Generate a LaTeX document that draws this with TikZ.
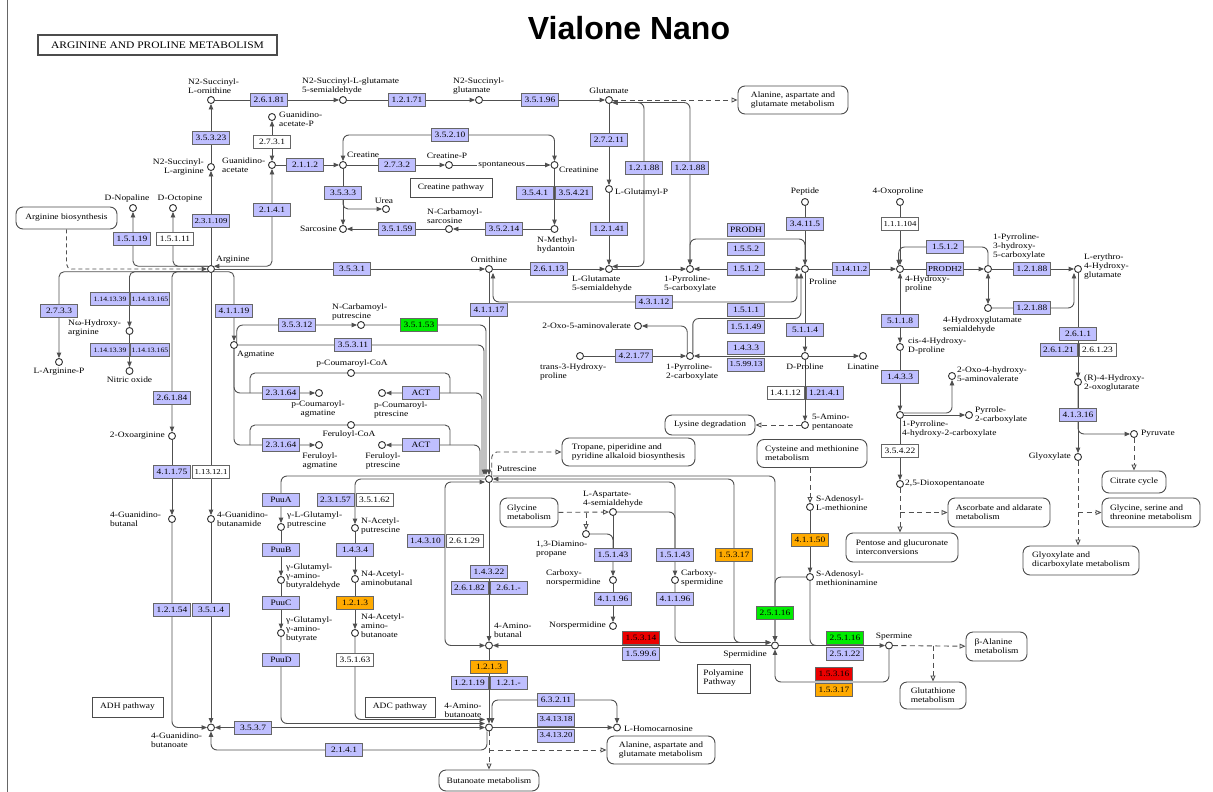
\documentclass[tikz,border=0pt]{standalone}
\usepackage{fontspec}
\setmainfont{Liberation Serif}
\newfontfamily\keggserif[FakeStretch=1.15]{Liberation Serif}
\newfontfamily\titlesans{Liberation Sans}
\usetikzlibrary{arrows.meta}
\definecolor{enzblue}{RGB}{191,191,255}
\definecolor{enzgreen}{RGB}{0,235,0}
\definecolor{enzorange}{RGB}{255,170,0}
\definecolor{enzred}{RGB}{235,0,0}
\definecolor{linegray}{RGB}{80,80,80}
\newcommand\mapfont{\keggserif\fontsize{8.2}{9}\selectfont}
\pgfdeclarelayer{paper}
\pgfdeclarelayer{connectors}
\pgfsetlayers{paper,connectors,main}
\tikzset{
  ln/.style={draw=linegray, line width=0.9pt},
  arr/.style={ln, -{Triangle[length=5.5pt,width=4.5pt]}},
  arrb/.style={ln, {Triangle[length=5.5pt,width=4.5pt]}-{Triangle[length=5.5pt,width=4.5pt]}},
  dsh/.style={draw=linegray, line width=0.9pt, dash pattern=on 5pt off 3.5pt, -{Triangle[open,length=6pt,width=5pt]}},
  cpd/.style={circle, draw=black!80, line width=0.9pt, fill=white, minimum size=7pt, inner sep=0pt},
  enz/.style={rectangle, draw=black!60, line width=0.7pt, fill=enzblue, minimum width=37pt, minimum height=13pt, inner sep=0pt, font=\mapfont},
  enzn/.style={enz, font=\keggserif\fontsize{7.6}{8}\selectfont},
  enzwide/.style={enz, minimum width=39pt, font=\keggserif\fontsize{6.7}{8}\selectfont},
  enzw/.style={enz, fill=white},
  enzg/.style={enz, fill=enzgreen},
  enzo/.style={enz, fill=enzorange},
  enzr/.style={enz, fill=enzred},
  lbl/.style={inner sep=0pt, font=\mapfont, align=left},
  mapbox/.style={rectangle, rounded corners=7pt, draw=black!70, line width=0.9pt, fill=white, font=\mapfont, align=left, inner sep=0pt},
  plainbox/.style={rectangle, draw=black!70, line width=0.9pt, fill=white, font=\mapfont, align=left, inner sep=0pt},
}
\begin{document}
\begin{tikzpicture}[x=1pt,y=-1pt]
\begin{pgfonlayer}{paper}
\fill[white] (0,0) rectangle (1213,792);
\end{pgfonlayer}
\useasboundingbox (0,0) rectangle (1213,792);
\draw[black!60, line width=1pt] (7.5,0) -- (7.5,792);
\node (title) at (629,28) {\titlesans\fontsize{32}{36}\selectfont\bfseries Vialone Nano};
\node[plainbox, line width=1.3pt, minimum width=239pt, minimum height=20pt, font=\keggserif\fontsize{10}{10}\selectfont] (maptitle) at (157.5,45) {ARGININE AND PROLINE METABOLISM};

% ---------- compounds ----------
\node[cpd] (sucorn) at (211,100) {};
\node[cpd] (sucglsa) at (343,100) {};
\node[cpd] (sucglu) at (479,100) {};
\node[cpd] (glu) at (609,100) {};
\node[cpd] (gaP) at (272,117) {};
\node[cpd] (gaa) at (272,165) {};
\node[cpd] (sucarg) at (211,167) {};
\node[cpd] (creatine) at (343,165) {};
\node[cpd] (creP) at (449,165) {};
\node[cpd] (creatinine) at (554.5,165) {};
\node[cpd] (urea) at (386,209) {};
\node[cpd] (sarcosine) at (343,229) {};
\node[cpd] (ncsarc) at (449,229) {};
\node[cpd] (nmh) at (554.5,229) {};
\node[cpd] (glup) at (609,189) {};
\node[cpd] (dnop) at (133,208) {};
\node[cpd] (doct) at (173,208) {};
\node[cpd] (arg) at (211,269) {};
\node[cpd] (orn) at (489,269) {};
\node[cpd] (g5s) at (609,269) {};
\node[cpd] (p5c) at (690,269) {};
\node[cpd] (peptide) at (805,202) {};
\node[cpd] (pro) at (805,269) {};
\node[cpd] (oxopro) at (900,202) {};
\node[cpd] (hyp) at (900,269) {};
\node[cpd] (p3h5c) at (988,269) {};
\node[cpd] (ery) at (1078,269) {};
\node[cpd] (hgs) at (988,308) {};
\node[cpd] (cishyp) at (900,347) {};
\node[cpd] (oxohav) at (952,376) {};
\node[cpd] (p4h2c) at (900,415) {};
\node[cpd] (pyrrole) at (969,415) {};
\node[cpd] (rhog) at (1078,382) {};
\node[cpd] (pyruvate) at (1134,434) {};
\node[cpd] (glyox) at (1078,457) {};
\node[cpd] (dioxo) at (900,484) {};
\node[cpd] (argP) at (59,362) {};
\node[cpd] (nohar) at (129.5,331) {};
\node[cpd] (no) at (129.5,371) {};
\node[cpd] (oxoarg) at (172,436) {};
\node[cpd] (agm) at (234,345) {};
\node[cpd] (ncput) at (361,325) {};
\node[cpd] (pcoa) at (351,373) {};
\node[cpd] (pcagm) at (319,393) {};
\node[cpd] (pcput) at (382,393) {};
\node[cpd] (fcoa) at (351,425) {};
\node[cpd] (feagm) at (319,445) {};
\node[cpd] (feput) at (382,445) {};
\node[cpd] (oxoav) at (638,326) {};
\node[cpd] (t3hp) at (580,356) {};
\node[cpd] (p2c) at (690,356) {};
\node[cpd] (dpro) at (805,356) {};
\node[cpd] (linatine) at (863,356) {};
\node[cpd] (amp) at (805,425) {};
\node[cpd] (putr) at (489,479) {};
\node[cpd] (gbal) at (172,519) {};
\node[cpd] (gbam) at (211,519) {};
\node[cpd] (glput) at (281,527) {};
\node[cpd] (gga) at (281,580) {};
\node[cpd] (ggb) at (281,633) {};
\node[cpd] (acput) at (355,528) {};
\node[cpd] (acab) at (355,579) {};
\node[cpd] (acabo) at (355,633) {};
\node[cpd] (aspsa) at (613,512) {};
\node[cpd] (dap) at (586,534) {};
\node[cpd] (cnsp) at (613,580) {};
\node[cpd] (csp) at (675,580) {};
\node[cpd] (nspd) at (613,626) {};
\node[cpd] (sam) at (810,507) {};
\node[cpd] (samn) at (810,577) {};
\node[cpd] (spd) at (775,645.5) {};
\node[cpd] (spm) at (889,645.5) {};
\node[cpd] (aba) at (489,645.5) {};
\node[cpd] (gbo) at (211,727.5) {};
\node[cpd] (gaba) at (489,727.5) {};
\node[cpd] (hcar) at (617,727.5) {};

% ---------- enzymes ----------
\node[enz] (e26181) at (269,100) {2.6.1.81};
\node[enz] (e12171) at (407,100) {1.2.1.71};
\node[enz] (e35196) at (540,100) {3.5.1.96};
\node[enz] (e35323) at (211,138) {3.5.3.23};
\node[enzw] (e2731) at (272,142) {2.7.3.1};
\node[enz] (e2112) at (305,165) {2.1.1.2};
\node[enz] (e35210) at (450,135) {3.5.2.10};
\node[enz] (e2732) at (397,165) {2.7.3.2};
\node[enz] (e3533) at (343,193) {3.5.3.3};
\node[enz] (e35159) at (397,229) {3.5.1.59};
\node[enz] (e35214) at (504,229) {3.5.2.14};
\node[enz] (e3541) at (535,193) {3.5.4.1};
\node[enz] (e35421) at (574,193) {3.5.4.21};
\node[enz] (e27211) at (609,140) {2.7.2.11};
\node[enz] (e12188a) at (644,168) {1.2.1.88};
\node[enz] (e12188b) at (690,168) {1.2.1.88};
\node[enz] (e12141) at (609,229) {1.2.1.41};
\node[enz] (e2141a) at (272,210) {2.1.4.1};
\node[enzn] (e231109) at (211,221) {2.3.1.109};
\node[enz] (e15119) at (132,239) {1.5.1.19};
\node[enzw] (e15111) at (175,239) {1.5.1.11};
\node[enz] (e3531) at (352,269) {3.5.3.1};
\node[enz] (e26113) at (549,269) {2.6.1.13};
\node[enz] (prodh) at (746,229.5) {PRODH};
\node[enz] (e1552) at (746,248.5) {1.5.5.2};
\node[enz] (e1512a) at (746,269) {1.5.1.2};
\node[enz] (e34115) at (805,224) {3.4.11.5};
\node[enzn] (e114112) at (851,269) {1.14.11.2};
\node[enzn, fill=white] (e111104) at (900,224) {1.1.1.104};
\node[enz] (e1512b) at (945,247) {1.5.1.2};
\node[enzn] (prodh2) at (945,269) {PRODH2};
\node[enz] (e12188c) at (1032,269) {1.2.1.88};
\node[enz] (e12188d) at (1032,308) {1.2.1.88};
\node[enz] (e5118) at (900,321) {5.1.1.8};
\node[enz] (e1433b) at (900,377) {1.4.3.3};
\node[enz] (e2611) at (1078,334) {2.6.1.1};
\node[enz] (e26121) at (1058.5,350) {2.6.1.21};
\node[enzw] (e26123) at (1097.5,350) {2.6.1.23};
\node[enz] (e41316) at (1078,415) {4.1.3.16};
\node[enzw] (e35422) at (900,451) {3.5.4.22};
\node[enz] (e2733) at (59,311) {2.7.3.3};
\node[enzwide] (e1141339a) at (110,299) {1.14.13.39};
\node[enzwide] (e11413165a) at (150,299) {1.14.13.165};
\node[enzwide] (e1141339b) at (110,350) {1.14.13.39};
\node[enzwide] (e11413165b) at (150,350) {1.14.13.165};
\node[enz] (e26184) at (172,398) {2.6.1.84};
\node[enz] (e41175) at (172,472) {4.1.1.75};
\node[enzn, fill=white] (e113121) at (211,472) {1.13.12.1};
\node[enz] (e41119) at (234,311) {4.1.1.19};
\node[enz] (e35312) at (297,325) {3.5.3.12};
\node[enzg] (e35153) at (419,325) {3.5.1.53};
\node[enz] (e35311) at (353,345) {3.5.3.11};
\node[enz] (e23164a) at (281,393) {2.3.1.64};
\node[enz] (e23164b) at (281,445) {2.3.1.64};
\node[enz] (acta) at (421,393) {ACT};
\node[enz] (actb) at (421,445) {ACT};
\node[enz] (e41117) at (489,310) {4.1.1.17};
\node[enz] (e43112) at (654,302) {4.3.1.12};
\node[enz] (e1511) at (746,310) {1.5.1.1};
\node[enz] (e15149) at (746,327) {1.5.1.49};
\node[enz] (e42177) at (634,356) {4.2.1.77};
\node[enz] (e1433a) at (746,348) {1.4.3.3};
\node[enzn] (e159913) at (746,364.5) {1.5.99.13};
\node[enz] (e5114) at (805,330) {5.1.1.4};
\node[enzw] (e14112) at (785.5,393) {1.4.1.12};
\node[enz] (e12141b) at (824.5,393) {1.21.4.1};
\node[enz] (puua) at (281,500) {PuuA};
\node[enz] (puub) at (281,550) {PuuB};
\node[enz] (puuc) at (281,603) {PuuC};
\node[enz] (puud) at (281,660) {PuuD};
\node[enz] (e12154) at (172,610) {1.2.1.54};
\node[enz] (e3514) at (211,610) {3.5.1.4};
\node[enz] (e3537) at (253,727.5) {3.5.3.7};
\node[enz] (e2141b) at (344,750) {2.1.4.1};
\node[enz] (e23157) at (335.5,500) {2.3.1.57};
\node[enzw] (e35162) at (374.5,500) {3.5.1.62};
\node[enz] (e1434) at (355,550) {1.4.3.4};
\node[enzo] (e1213a) at (355,603) {1.2.1.3};
\node[enzw] (e35163) at (355,660) {3.5.1.63};
\node[enz] (e14310) at (425.5,541) {1.4.3.10};
\node[enzw] (e26129) at (464.5,541) {2.6.1.29};
\node[enz] (e14322) at (489,572) {1.4.3.22};
\node[enz] (e26182) at (469.5,588) {2.6.1.82};
\node[enz] (e261x) at (508.5,588) {2.6.1.-};
\node[enzo] (e1213b) at (489,667) {1.2.1.3};
\node[enz] (e12119) at (469.5,683) {1.2.1.19};
\node[enz] (e121x) at (508.5,683) {1.2.1.-};
\node[enz] (e63211) at (556,700) {6.3.2.11};
\node[enzn] (e341318) at (556,719.5) {3.4.13.18};
\node[enzn] (e341320) at (556,735.5) {3.4.13.20};
\node[enz] (e15143a) at (613,555) {1.5.1.43};
\node[enz] (e41196a) at (613,599) {4.1.1.96};
\node[enz] (e15143b) at (675,555) {1.5.1.43};
\node[enz] (e41196b) at (675,599) {4.1.1.96};
\node[enzo] (e15317a) at (734,555) {1.5.3.17};
\node[enzo] (e41150) at (810,540) {4.1.1.50};
\node[enzg] (e25116a) at (775,613) {2.5.1.16};
\node[enzr] (e15314) at (641,637.5) {1.5.3.14};
\node[enz] (e15996) at (641,653.5) {1.5.99.6};
\node[enzg] (e25116b) at (845,637.5) {2.5.1.16};
\node[enz] (e25122) at (845,653.5) {2.5.1.22};
\node[enzr] (e15316) at (834,674) {1.5.3.16};
\node[enzo] (e15317b) at (834,690) {1.5.3.17};

% ---------- linked maps and notes ----------
\node[mapbox, minimum width=101pt, minimum height=22pt] (argbio) at (66.5,218) {Arginine biosynthesis};
\node[mapbox, minimum width=110pt, minimum height=28pt] (alaasp1) at (793,100) {Alanine, aspartate and\\glutamate metabolism};
\node[plainbox, minimum width=82pt, minimum height=19pt] (creatpw) at (451,187.5) {Creatine pathway};
\node[mapbox, minimum width=90pt, minimum height=20pt] (lysdeg) at (710,425) {Lysine degradation};
\node[mapbox, minimum width=133pt, minimum height=28pt] (tropane) at (628.5,452) {Tropane, piperidine and\\pyridine alkaloid biosynthesis};
\node[mapbox, minimum width=110pt, minimum height=28pt] (cysmet) at (812,453.5) {Cysteine and methionine\\metabolism};
\node[mapbox, minimum width=58pt, minimum height=29pt] (glymet) at (529,512.5) {Glycine\\metabolism};
\node[mapbox, minimum width=112pt, minimum height=29pt] (pentose) at (902,547.5) {Pentose and glucuronate\\interconversions};
\node[mapbox, minimum width=102pt, minimum height=29pt] (ascorb) at (999,512.5) {Ascorbate and aldarate\\metabolism};
\node[mapbox, minimum width=64pt, minimum height=22pt] (citrate) at (1134,482) {Citrate cycle};
\node[mapbox, minimum width=98pt, minimum height=29pt] (glyser) at (1151,512.5) {Glycine, serine and\\threonine metabolism};
\node[mapbox, minimum width=116pt, minimum height=29pt] (glyoxdic) at (1081,560.5) {Glyoxylate and\\dicarboxylate metabolism};
\node[mapbox, minimum width=61pt, minimum height=29pt] (balanine) at (996.5,646.5) {β-Alanine\\metabolism};
\node[mapbox, minimum width=66pt, minimum height=27pt] (glutathione) at (933,695.5) {Glutathione\\metabolism};
\node[plainbox, minimum width=53pt, minimum height=29pt] (polyamine) at (723.5,678.5) {Polyamine\\Pathway};
\node[plainbox, minimum width=71pt, minimum height=20pt] (adh) at (127.5,707) {ADH pathway};
\node[plainbox, minimum width=70pt, minimum height=20pt] (adc) at (400,707) {ADC pathway};
\node[mapbox, minimum width=100pt, minimum height=21pt] (butanoate) at (489,780.5) {Butanoate metabolism};
\node[mapbox, minimum width=108pt, minimum height=28pt] (alaasp2) at (661,750) {Alanine, aspartate and\\glutamate metabolism};

% ---------- compound names ----------
\node[lbl, anchor=south west] (l-sucorn) at (188,94) {N2-Succinyl-\\L-ornithine};
\node[lbl, anchor=south west] (l-sucglsa) at (302,94) {N2-Succinyl-L-glutamate\\5-semialdehyde};
\node[lbl, anchor=south west] (l-sucglu) at (453,94) {N2-Succinyl-\\glutamate};
\node[lbl, anchor=south] (l-glu) at (609,94) {Glutamate};
\node[lbl, anchor=north west] (l-gaP) at (279,112) {Guanidino-\\acetate-P};
\node[lbl, anchor=north west] (l-gaa) at (222,158) {Guanidino-\\acetate};
\node[lbl, anchor=north east, align=right] (l-sucarg) at (204,159) {N2-Succinyl-\\L-arginine};
\node[lbl, anchor=south west] (l-creatine) at (347,158) {Creatine};
\node[lbl, anchor=south] (l-creP) at (447,159) {Creatine-P};
\node[lbl, anchor=west] (l-creatinine) at (559,170) {Creatinine};
\node[lbl, anchor=south] (l-urea) at (384,204) {Urea};
\node[lbl, anchor=east] (l-sarcosine) at (337,229) {Sarcosine};
\node[lbl, anchor=south west] (l-ncsarc) at (427,224) {N-Carbamoyl-\\sarcosine};
\node[lbl, anchor=north west] (l-nmh) at (537,237) {N-Methyl-\\hydantoin};
\node[lbl, anchor=west] (l-glup) at (615,193) {L-Glutamyl-P};
\node[lbl, anchor=south] (l-dnop) at (127,202) {D-Nopaline};
\node[lbl, anchor=south] (l-doct) at (180,202) {D-Octopine};
\node[lbl, anchor=south west] (l-arg) at (216,263) {Arginine};
\node[lbl, anchor=south] (l-orn) at (489,263) {Ornithine};
\node[lbl, anchor=north west] (l-g5s) at (572,276) {L-Glutamate\\5-semialdehyde};
\node[lbl, anchor=north west] (l-p5c) at (664,276) {1-Pyrroline-\\5-carboxylate};
\node[lbl, anchor=south] (l-peptide) at (805,195) {Peptide};
\node[lbl, anchor=west] (l-pro) at (809,282) {Proline};
\node[lbl, anchor=south] (l-oxopro) at (898,195) {4-Oxoproline};
\node[lbl, anchor=north west] (l-hyp) at (905,276) {4-Hydroxy-\\proline};
\node[lbl, anchor=north west] (l-p3h5c) at (993,234) {1-Pyrroline-\\3-hydroxy-\\5-carboxylate};
\node[lbl, anchor=north west] (l-ery) at (1084,254) {L-erythro-\\4-Hydroxy-\\glutamate};
\node[lbl, anchor=north west] (l-hgs) at (943,317) {4-Hydroxyglutamate\\semialdehyde};
\node[lbl, anchor=north west] (l-cishyp) at (908,338) {cis-4-Hydroxy-\\D-proline};
\node[lbl, anchor=north west] (l-oxohav) at (957,367) {2-Oxo-4-hydroxy-\\5-aminovalerate};
\node[lbl, anchor=north west] (l-p4h2c) at (902,421) {1-Pyrroline-\\4-hydroxy-2-carboxylate};
\node[lbl, anchor=north west] (l-pyrrole) at (975,407) {Pyrrole-\\2-carboxylate};
\node[lbl, anchor=north west] (l-rhog) at (1084,375) {(R)-4-Hydroxy-\\2-oxoglutarate};
\node[lbl, anchor=west] (l-pyruvate) at (1141,434) {Pyruvate};
\node[lbl, anchor=east] (l-glyox) at (1071,457) {Glyoxylate};
\node[lbl, anchor=west] (l-dioxo) at (905,484) {2,5-Dioxopentanoate};
\node[lbl, anchor=north] (l-argP) at (59,368) {L-Arginine-P};
\node[lbl, anchor=north west] (l-nohar) at (68,320) {Nω-Hydroxy-\\arginine};
\node[lbl, anchor=north] (l-no) at (129.5,377) {Nitric oxide};
\node[lbl, anchor=east] (l-oxoarg) at (165,436) {2-Oxoarginine};
\node[lbl, anchor=west] (l-agm) at (237,355) {Agmatine};
\node[lbl, anchor=south west] (l-ncput) at (332,320) {N-Carbamoyl-\\putrescine};
\node[lbl, anchor=south] (l-pcoa) at (352,367) {p-Coumaroyl-CoA};
\node[lbl, anchor=north, align=center] (l-pcagm) at (318,401) {p-Coumaroyl-\\agmatine};
\node[lbl, anchor=north west] (l-pcput) at (374,402) {p-Coumaroyl-\\ptrescine};
\node[lbl, anchor=north] (l-fcoa) at (349,431) {Feruloyl-CoA};
\node[lbl, anchor=north, align=center] (l-feagm) at (320,453) {Feruloyl-\\agmatine};
\node[lbl, anchor=north, align=center] (l-feput) at (383,453) {Feruloyl-\\ptrescine};
\node[lbl, anchor=east] (l-oxoav) at (631,326) {2-Oxo-5-aminovalerate};
\node[lbl, anchor=north west] (l-t3hp) at (540,364) {trans-3-Hydroxy-\\proline};
\node[lbl, anchor=north west] (l-p2c) at (666,364) {1-Pyrroline-\\2-carboxylate};
\node[lbl, anchor=north] (l-dpro) at (805,364) {D-Proline};
\node[lbl, anchor=north] (l-linatine) at (863,364) {Linatine};
\node[lbl, anchor=north west] (l-amp) at (812,414) {5-Amino-\\pentanoate};
\node[lbl, anchor=west] (l-putr) at (497,469) {Putrescine};
\node[lbl, anchor=north west] (l-gbal) at (110,512) {4-Guanidino-\\butanal};
\node[lbl, anchor=north west] (l-gbam) at (217,512) {4-Guanidino-\\butanamide};
\node[lbl, anchor=north west] (l-glput) at (287,512) {γ-L-Glutamyl-\\putrescine};
\node[lbl, anchor=north west] (l-gga) at (286,564) {γ-Glutamyl-\\γ-amino-\\butyraldehyde};
\node[lbl, anchor=north west] (l-ggb) at (286,617) {γ-Glutamyl-\\γ-amino-\\butyrate};
\node[lbl, anchor=north west] (l-acput) at (361,518) {N-Acetyl-\\putrescine};
\node[lbl, anchor=north west] (l-acab) at (361,571) {N4-Acetyl-\\aminobutanal};
\node[lbl, anchor=north west] (l-acabo) at (361,614) {N4-Acetyl-\\amino-\\butanoate};
\node[lbl, anchor=south west] (l-aspsa) at (583,507) {L-Aspartate-\\4-semialdehyde};
\node[lbl, anchor=north west] (l-dap) at (536,541) {1,3-Diamino-\\propane};
\node[lbl, anchor=north west] (l-cnsp) at (546,570) {Carboxy-\\norspermidine};
\node[lbl, anchor=north west] (l-csp) at (681,570) {Carboxy-\\spermidine};
\node[lbl, anchor=east] (l-nspd) at (606,626) {Norspermidine};
\node[lbl, anchor=north west] (l-sam) at (816,496) {S-Adenosyl-\\L-methionine};
\node[lbl, anchor=north west] (l-samn) at (816,571) {S-Adenosyl-\\methioninamine};
\node[lbl, anchor=east] (l-spd) at (767,655) {Spermidine};
\node[lbl, anchor=south] (l-spm) at (894,640) {Spermine};
\node[lbl, anchor=north west] (l-aba) at (494,623) {4-Amino-\\butanal};
\node[lbl, anchor=north west] (l-gbo) at (151,733) {4-Guanidino-\\butanoate};
\node[lbl, anchor=south, align=center] (l-gaba) at (463,718) {4-Amino-\\butanoate};
\node[lbl, anchor=west] (l-hcar) at (624,729) {L-Homocarnosine};

% ---------- reactions ----------
\begin{pgfonlayer}{connectors}
% succinyl branch and glutamate
\draw[arr] (arg) -- (sucarg);
\draw[arr] (sucarg) -- (sucorn);
\draw[arr] (sucorn) -- (sucglsa);
\draw[arr] (sucglsa) -- (sucglu);
\draw[arr] (sucglu) -- (glu);
\draw[dsh] (glu) -- (alaasp1);
% guanidinoacetate and creatine
\draw[arrb, rounded corners=5pt] (arg.north east) -| (gaa);
\draw[arrb] (gaa) -- (gaP);
\draw[arr] (gaa) -- (creatine);
\draw[arr] (creatine) -- (creP);
\draw[arr] (creP) -- node[lbl, fill=white, inner sep=1pt] (spont) {spontaneous} (creatinine);
\draw[arrb, rounded corners=6pt] (creatine) |- (e35210.center) -| (creatinine);
\draw[arr] (creatine) -- (sarcosine);
\draw[arr, rounded corners=5pt] (e3533.south) |- (urea);
\draw[arr] (creatinine) -- (nmh);
\draw[arr] (nmh) -- (ncsarc);
\draw[arr] (ncsarc) -- (sarcosine);
% glutamate to proline
\draw[arr] (glu) -- (glup);
\draw[arr] (glup) -- (g5s);
\draw[arrb, rounded corners=6pt] (glu.-40) -| (e12188a.center) |- (g5s.40);
\draw[arrb, rounded corners=6pt] (p5c) |- (glu.-40);
\draw[arr] (arg) -- (orn);
\draw[arr] (orn) -- (g5s);
\draw[arr] (g5s) -- (p5c);
\draw[arrb] (p5c) -- (pro);
\coordinate (prodhj) at (746,239);
\draw[arr, rounded corners=6pt] (pro) |- (prodhj) -| (p5c);
\draw[arr] (peptide) -- (pro);
\draw[arr] (pro) -- (hyp);
\draw[arrb, rounded corners=6pt] ([xshift=-8pt]pro.south) |- (e43112.center) -| ([xshift=4pt]orn.south);
\draw[arr] (orn) -- (putr);
% proline side reactions
\coordinate (r1511) at (746,318.5);
\draw[arr, rounded corners=6pt] (p2c.north east) |- (r1511) -| ([xshift=-4pt]pro.south);
\draw[arr, rounded corners=6pt] (p2c.north west) |- (oxoav);
\draw[arr] (dpro) -- (p2c);
\draw[arr] (t3hp) -- (p2c);
\draw[arr] (pro) -- (dpro);
\draw[arr] (dpro) -- (linatine);
\draw[arr] (dpro) -- (amp);
\draw[dsh] (amp) -- (lysdeg);
% hydroxyproline
\draw[arr] (oxopro) -- (hyp);
\draw[arr] (hyp) -- (p3h5c);
\draw[arr, rounded corners=6pt] (p3h5c) |- (e1512b.center) -| (hyp.110);
\draw[arr] (p3h5c) -- (ery);
\draw[arrb] (p3h5c) -- (hgs);
\draw[arr, rounded corners=6pt] (hgs) -| ([xshift=-4pt]ery.south);
\draw[arr] (ery) -- (rhog);
\draw[arr, rounded corners=6pt] (rhog) |- (pyruvate);
\draw[arr] (rhog) -- (glyox);
\draw[dsh] (pyruvate) -- (citrate);
\draw[dsh] (glyox) -- (glyox |- glyoxdic.north);
\draw[dsh] (glyox |- glyser.west) -- (glyser);
\draw[arrb] (hyp) -- (cishyp);
\draw[arr] (cishyp) -- (p4h2c);
\draw[arr, rounded corners=6pt] (p4h2c.30) -| (oxohav);
\draw[arr] (p4h2c) -- (pyrrole);
\draw[arr] (p4h2c) -- (dioxo);
\draw[dsh] (dioxo) -- (dioxo |- pentose.north);
\draw[dsh] (dioxo |- ascorb.west) -- (ascorb);
% arginine side branches
\draw[arr, rounded corners=5pt] (arg.north west) -| (dnop);
\draw[arr, rounded corners=5pt] (arg.north west) -| (doct);
\draw[arr, dash pattern=on 4pt off 3pt, rounded corners=5pt] (argbio) |- (arg.west);
\draw[arr, rounded corners=5pt] (arg.south west) -| (argP);
\draw[arr, rounded corners=5pt] (arg.south west) -| (nohar);
\draw[arr] (nohar) -- (no);
\draw[arr, rounded corners=5pt] (arg.south west) -| (oxoarg);
\draw[arr] (oxoarg) -- (gbal);
\draw[arr] (arg) -- (gbam);
\draw[arr, rounded corners=5pt] (arg.south east) -| (agm);
\draw[arr, rounded corners=6pt] (gbal) |- (gbo);
\draw[arr] (gbam) -- (gbo);
\draw[arrb] (gbo) -- (gaba);
\draw[arr, rounded corners=6pt] ([xshift=-2pt]gaba.south) |- (e2141b.center) -| (gbo);
% agmatine to putrescine
\draw[arr, rounded corners=6pt] (agm.north east) |- (ncput);
\draw[arr, rounded corners=6pt] (ncput) -| ([xshift=-3pt]putr.north);
\draw[arr, rounded corners=6pt] (agm) -| ([xshift=-5pt]putr.north);
\draw[arr, rounded corners=6pt] (agm) |- (pcagm);
\draw[arr, rounded corners=6pt] (agm) |- (feagm);
\coordinate (pcl) at (250,393);
\coordinate (pcr) at (450,393);
\coordinate (fel) at (250,445);
\coordinate (fer) at (450,445);
\draw[ln, rounded corners=5pt] (pcoa) -| (pcl);
\draw[ln, rounded corners=5pt] (pcoa) -| (pcr);
\draw[ln, rounded corners=5pt] (fcoa) -| (fel);
\draw[ln, rounded corners=5pt] (fcoa) -| (fer);
\draw[arr, rounded corners=6pt] ([xshift=-7pt]putr.north) |- (acta.center) -- (pcput);
\draw[arr, rounded corners=6pt] ([xshift=-9pt]putr.north) |- (actb.center) -- (feput);
% putrescine catabolism
\draw[dsh, rounded corners=5pt] (putr.north east) |- (tropane.west);
\draw[arr] (putr) -- (aba);
\draw[arr, rounded corners=6pt] ([yshift=3pt]putr.west) -| (glput);
\draw[arr] (glput) -- (gga);
\draw[arr] (gga) -- (ggb);
\draw[arr, rounded corners=6pt] (ggb) |- ([yshift=4pt]gaba.west);
\draw[arr, rounded corners=6pt] (putr.west) -| (acput);
\draw[arr] (acput) -- (acab);
\draw[arr] (acab) -- (acabo);
\draw[arr, rounded corners=6pt] (acabo) |- ([yshift=8pt]gaba.west);
\coordinate (loopa) at (445,541);
\draw[arrb, rounded corners=6pt] ([yshift=-3pt]putr.west) -| (loopa) |- (aba.west);
\draw[arr] (aba) -- (gaba);
\draw[arr] (gaba) -- (hcar);
\draw[arrb, rounded corners=6pt] ([xshift=3pt]gaba.north) |- (e63211.center) -| (hcar);
\draw[dsh] (gaba) -- (butanoate);
\draw[dsh] (gaba |- alaasp2.west) -- (alaasp2);
% polyamines
\draw[dsh] (glymet) -- (aspsa);
\draw[dsh] (dap |- glymet.east) -- (dap);
\draw[arr, rounded corners=6pt] (dap) -| (cnsp);
\draw[ln] (aspsa) -- (e15143a.center);
\draw[arr] (cnsp) -- (nspd);
\draw[ln, rounded corners=6pt] (aspsa) -| (e15143b.center);
\draw[arr, rounded corners=6pt] ([yshift=-3pt]putr.east) -| (csp);
\draw[arr, rounded corners=6pt] (csp) |- ([yshift=3pt]spd.west);
\draw[arrb, rounded corners=6pt] (putr.east) -| (e15317a.center) |- ([yshift=3pt]spd.west);
\draw[arr, rounded corners=6pt] ([yshift=3pt]putr.east) -| (spd);
\draw[dsh] (cysmet.south -| sam) -- (sam);
\draw[arr] (sam) -- (samn);
\draw[arr, rounded corners=6pt] (samn) -| (spd);
\coordinate (spmj) at (822,645.5);
\draw[ln, rounded corners=6pt] (samn) |- (spmj);
\draw[arr] (spd) -- (spm);
\coordinate (loopb) at (834,682);
\draw[arr, rounded corners=6pt] (spm) |- (loopb) -| (spd);
\draw[arr] (spd) -- (aba);
\draw[dsh] (spm) -- (balanine);
\draw[dsh] (glutathione.north |- spm) -- (glutathione);
\end{pgfonlayer}
\end{tikzpicture}
\end{document}
